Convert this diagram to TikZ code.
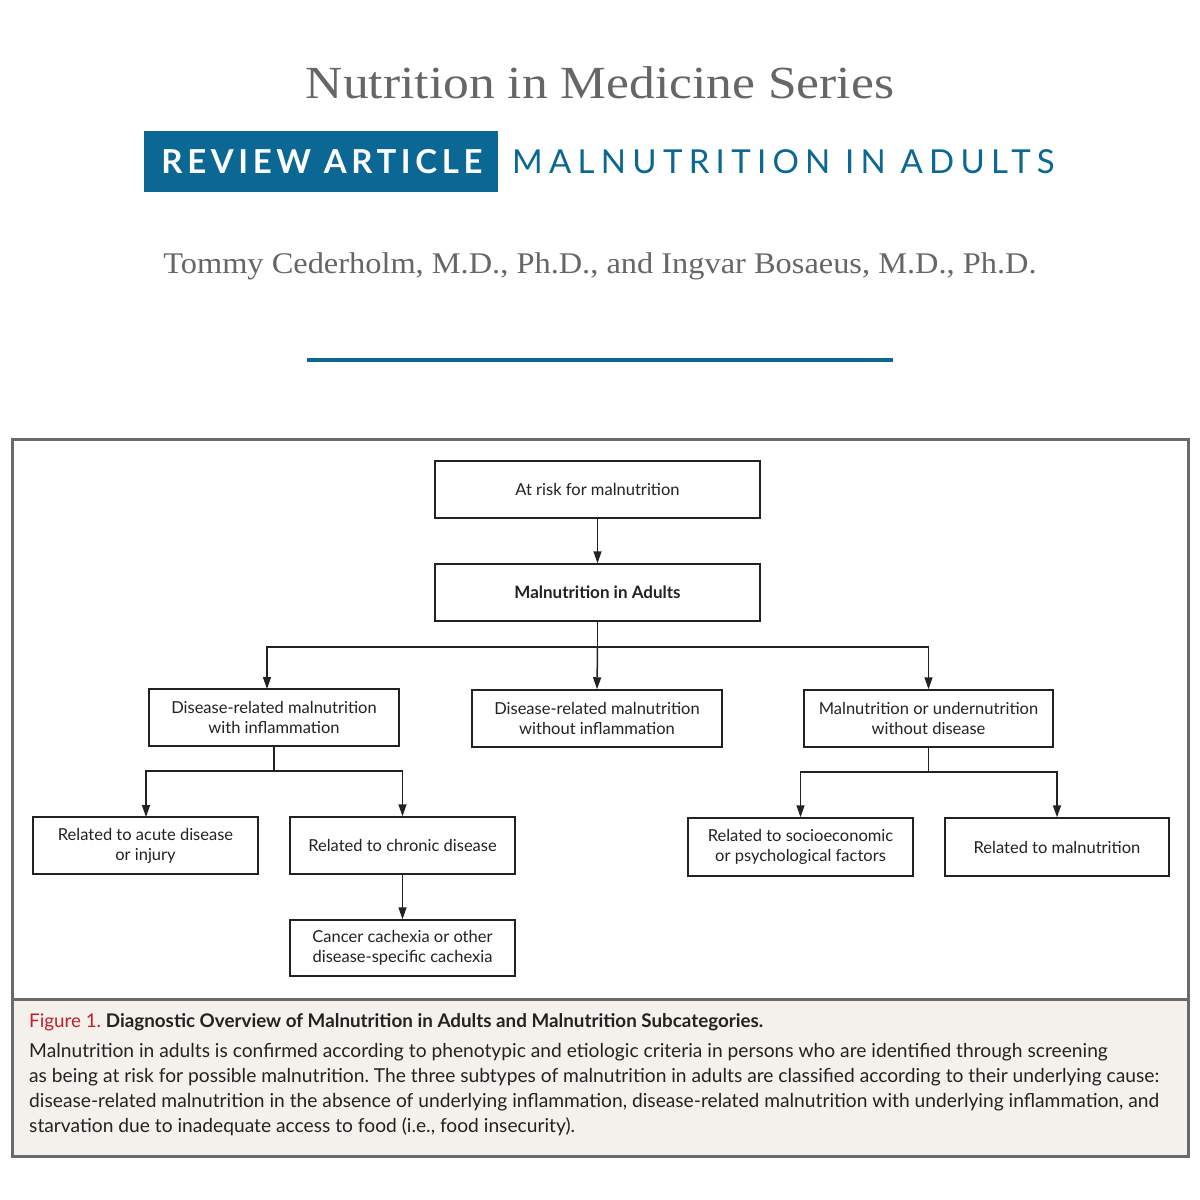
\documentclass[tikz,border=0pt]{standalone}
\usepackage{fontspec}
\usetikzlibrary{arrows.meta}
\setmainfont{Lato}
\newfontfamily\serifttl{Liberation Serif}[FakeStretch=1.12]
\newfontfamily\serifauth{Liberation Serif}[FakeStretch=1.08]
\newfontfamily\banbold{Lato Bold}[LetterSpace=14]
\newfontfamily\banreg{Lato}[LetterSpace=19]
\newfontfamily\diag{Lato}
\definecolor{nejmblue}{HTML}{0B6794}
\definecolor{ttlgray}{HTML}{666666}
\definecolor{framegray}{HTML}{6A6A6A}
\definecolor{capbg}{HTML}{F4F1EC}
\definecolor{figred}{HTML}{C41E2A}
\definecolor{ink}{HTML}{222222}
\frenchspacing
\begin{document}
\begin{tikzpicture}[x=1pt,y=-1pt,
  box/.style={draw=ink,line width=1.5pt,inner sep=0pt,align=center,
    font=\diag\fontsize{16.5}{20}\selectfont,text=ink},
  conn/.style={draw=ink,line width=1.5pt},
  arr/.style={conn,-{Triangle[length=12pt,width=8pt]}}]
\useasboundingbox[fill=white] (0,0) rectangle (1200,1200);
% header
\node[font=\serifttl\fontsize{46}{50}\selectfont,text=ttlgray] (title) at (600,83) {Nutrition in Medicine Series};
\node[fill=nejmblue,minimum width=354pt,minimum height=61pt,inner sep=0pt,anchor=north west] (ban) at (144,131) {};
\node[font=\banbold\fontsize{33}{36}\selectfont,text=white] (ra) at (322,162) {REVIEW ARTICLE};
\node[font=\banreg\fontsize{33}{36}\selectfont,text=nejmblue,anchor=west,inner sep=0pt] (mal) at (512,162) {MALNUTRITION IN ADULTS};
\node[font=\serifauth\fontsize{30}{34}\selectfont,text=ttlgray] (auth) at (600,266) {Tommy Cederholm, M.D., Ph.D., and Ingvar Bosaeus, M.D., Ph.D.};
\draw[nejmblue,line width=4pt] (307,360) coordinate (r1) -- (893,360) coordinate (r2);
% frame
\fill[capbg] (12,999) rectangle (1188,1156);
\draw[framegray,line width=3pt] (12,439) rectangle (1188,1156);
\draw[framegray,line width=3pt] (12,999) coordinate (s1) -- (1188,999) coordinate (s2);
% boxes
\node[box,minimum width=325pt,minimum height=57pt] (A) at (597.5,489.5) {At risk for malnutrition};
\node[box,minimum width=325pt,minimum height=57pt,font=\diag\bfseries\fontsize{17}{20}\selectfont] (B) at (597.5,592.5) {Malnutrition in Adults};
\node[box,minimum width=250pt,minimum height=57pt] (C1) at (274,717.5) {Disease-related malnutrition\\with inflammation};
\node[box,minimum width=250pt,minimum height=57pt] (C2) at (597,718.5) {Disease-related malnutrition\\without inflammation};
\node[box,minimum width=249pt,minimum height=57pt] (C3) at (928.5,718.5) {Malnutrition or undernutrition\\without disease};
\node[box,minimum width=225pt,minimum height=57pt] (D1) at (145.5,845.5) {Related to acute disease\\or injury};
\node[box,minimum width=225pt,minimum height=57pt] (D2) at (402.5,845.5) {Related to chronic disease};
\node[box,minimum width=225pt,minimum height=56pt] (E) at (402.5,948) {Cancer cachexia or other\\disease-specific cachexia};
\node[box,minimum width=225pt,minimum height=58pt] (F1) at (800.5,847) {Related to socioeconomic\\or psychological factors};
\node[box,minimum width=224pt,minimum height=58pt] (F2) at (1057,847) {Related to malnutrition};
% connectors
\draw[arr] (A.south) -- (B.north);
\coordinate (jB) at (597.5,647);
\draw[conn] (B.south) -- (jB);
\draw[arr] (jB) -| (267,689);
\draw[arr] (jB) -- (C2.north);
\draw[arr] (jB) -| (C3.north);
\coordinate (jC1) at (274,771);
\draw[conn] (C1.south) -- (jC1);
\draw[arr] (jC1) -| (146,817);
\draw[arr] (jC1) -| (D2.north);
\draw[arr] (D2.south) -- (E.north);
\coordinate (jC3) at (928.5,772);
\draw[conn] (C3.south) -- (jC3);
\draw[arr] (jC3) -| (F1.north);
\draw[arr] (jC3) -| (F2.north);
% caption
\node[anchor=west,inner sep=0pt,font=\fontsize{18.8}{25}\selectfont] (cap1) at (29,1022)
 {\textcolor{figred}{Figure 1.} \textcolor{ink}{\textbf{Diagnostic Overview of Malnutrition in Adults and Malnutrition Subcategories.}}};
\node[anchor=north west,inner sep=0pt,align=left,text=ink,font=\fontsize{19.2}{25}\selectfont] (cap2) at (29,1043)
 {Malnutrition in adults is confirmed according to phenotypic and etiologic criteria in persons who are identified through screening\\
 as being at risk for possible malnutrition. The three subtypes of malnutrition in adults are classified according to their underlying cause:\\
 disease-related malnutrition in the absence of underlying inflammation, disease-related malnutrition with underlying inflammation, and\\
 starvation due to inadequate access to food (i.e., food insecurity).};
\end{tikzpicture}
\end{document}
